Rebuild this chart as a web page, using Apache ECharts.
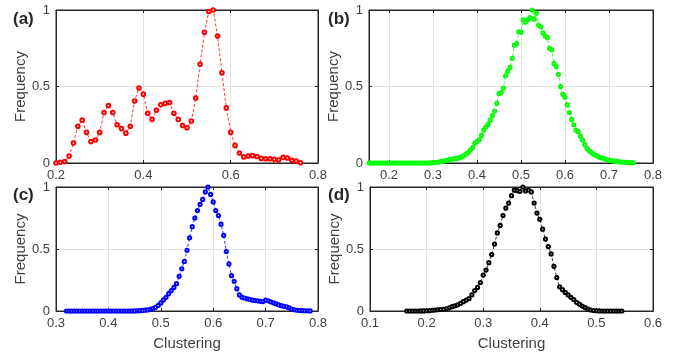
<!DOCTYPE html>
<html><head><meta charset="utf-8">
<script src="https://cdn.jsdelivr.net/npm/echarts@6/dist/echarts.min.js"></script>
<style>html,body{margin:0;padding:0;background:#fff}#c{width:674px;height:355px}</style>
</head><body><div id="c"></div>
<script>
// ---- data (histogram bin start, bin width, normalised frequency) ----
const aStart = 0.20, aStep = 0.01;
const aFreq = [0.00,0.005,0.01,0.045,0.13,0.24,0.28,0.20,0.14,0.15,
  0.20,0.33,0.375,0.33,0.25,0.225,0.195,0.24,0.405,0.49,
  0.45,0.325,0.285,0.345,0.38,0.39,0.395,0.325,0.285,0.245,
  0.23,0.275,0.425,0.645,0.855,0.99,1.0,0.83,0.59,0.36,
  0.2,0.115,0.065,0.04,0.045,0.048,0.042,0.03,0.028,0.028,
  0.024,0.02,0.037,0.033,0.018,0.013,0.002];

const bStart = 0.155, bStep = 0.005;
const bFreq = [0,0,0,0,0,0,0,0,0,0, 0,0,0,0,0,0,0,0,0,0, 0,0,0,0,0,0,0,0,
  0.001,0.002,0.003,0.005,0.008,0.010,0.013,0.016,0.020,0.024,
  0.026,0.028,0.030,0.035,0.040,0.048,0.060,0.068,0.085,0.100,
  0.130,0.140,0.152,0.180,0.215,0.235,0.252,0.280,0.310,0.340,
  0.390,0.455,0.460,0.490,0.570,0.600,0.625,0.684,0.770,0.780,
  0.858,0.854,0.935,0.920,0.935,0.950,1.000,0.940,0.980,0.900,0.890,
  0.850,0.830,0.820,0.750,0.740,0.650,0.630,0.580,0.500,0.450,
  0.430,0.380,0.330,0.285,0.250,0.215,0.205,0.175,0.150,0.120,
  0.095,0.080,0.070,0.058,0.050,0.042,0.036,0.031,0.027,0.023,
  0.019,0.016,0.013,0.011,0.009,0.008,0.006,0.005,0.004,0.003,0.002,0.001];

const cStart = 0.32, cStep = 0.005;
const cFreq = [0,0,0,0,0,0,0,0,0,0, 0,0,0,0,0,0,0,0,0,0, 0,0,0,0,0,0,0.001,0.002,0.003,0.005,
  0.007,0.009,0.014,0.020,0.030,0.045,0.065,0.089,0.11,0.14,
  0.165,0.19,0.22,0.28,0.34,0.40,0.49,0.59,0.68,0.75,
  0.81,0.86,0.90,0.96,1.00,0.94,0.88,0.81,0.77,0.70,
  0.61,0.48,0.38,0.285,0.24,0.18,0.13,0.11,0.105,0.098,
  0.094,0.087,0.084,0.082,0.078,0.076,0.088,0.082,0.074,0.066,
  0.058,0.05,0.043,0.038,0.034,0.026,0.015,0.01,0.006,0.004,
  0.003,0.002,0.002,0.001];

const dStart = 0.165, dStep = 0.005;
const dFreq = [0,0,0,0,0,0.001,0.001,0.002,0.003,0.006,
  0.008,0.01,0.012,0.014,0.018,0.026,0.035,0.042,0.05,0.062,
  0.075,0.088,0.1,0.13,0.165,0.19,0.23,0.29,0.33,0.39,
  0.455,0.54,0.63,0.69,0.77,0.83,0.87,0.93,0.975,0.97,
  0.965,1.0,0.968,0.976,0.96,0.87,0.79,0.74,0.66,0.58,
  0.52,0.46,0.36,0.27,0.195,0.172,0.15,0.13,0.11,0.092,
  0.07,0.055,0.04,0.028,0.016,0.008,0.004,0.002,0.001,0,
  0,0,0,0,0,0,0];

const aTicks = [0.2,0.4,0.6,0.8];
const bTicks = [0.2,0.3,0.4,0.5,0.6,0.7,0.8];
const cTicks = [0.3,0.4,0.5,0.6,0.7,0.8];
const dTicks = [0.1,0.2,0.3,0.4,0.5,0.6];
const yTicks = [0,0.5,1];
const panelLabels = ['(a)','(b)','(c)','(d)'];
const colors = ['#ff0000','#00ff00','#0000ff','#000000'];

// ---- build ----
function pts(start, step, arr){ return arr.map((v,i)=>[+(start+i*step).toFixed(4), v]); }
const seriesData = [pts(aStart,aStep,aFreq), pts(bStart,bStep,bFreq), pts(cStart,cStep,cFreq), pts(dStart,dStep,dFreq)];
const xRanges = [[0.2,0.8],[0.1545,0.8],[0.3,0.8],[0.1,0.6]];
const xTickSets = [aTicks,bTicks,cTicks,dTicks];
const grids = [
  {left:56, top:10, width:262, height:153},
  {left:369, top:10, width:284, height:153},
  {left:56, top:187, width:262, height:124},
  {left:370, top:187, width:283, height:124}
];
const AX = '#262626', FONT = 'Liberation Sans, Arial, sans-serif';
const fmt = v => String(+(+v).toFixed(2));

const xAxis = [], yAxis = [], series = [];
for (let i=0;i<4;i++){
  const bottomRow = i>=2;
  xAxis.push({
    type:'value', gridIndex:i, min:xRanges[i][0], max:xRanges[i][1],
    name: bottomRow ? 'Clustering' : '', nameLocation:'middle', nameGap:25,
    nameTextStyle:{fontSize:15, color:'#404040', fontFamily:FONT},
    axisLine:{show:true, onZero:false, lineStyle:{color:AX, width:1}},
    axisTick:{show:true, inside:true, length:3, lineStyle:{color:AX}, customValues:xTickSets[i]},
    axisLabel:{show:true, fontSize:13, color:'#404040', fontFamily:FONT, margin:6, formatter:fmt,
      customValues:xTickSets[i], showMinLabel:true, showMaxLabel:true},
    splitLine:{show:true, lineStyle:{color:'#e3e3e3', width:1}}
  });
  yAxis.push({
    type:'value', gridIndex:i, min:0, max:1, interval:0.5,
    name:'Frequency', nameLocation:'middle', nameGap:25, nameRotate:90,
    nameTextStyle:{fontSize:15, color:'#404040', fontFamily:FONT},
    axisLine:{show:true, onZero:false, lineStyle:{color:AX, width:1}},
    axisTick:{show:true, inside:true, length:3, lineStyle:{color:AX}},
    axisLabel:{show:true, fontSize:13, color:'#404040', fontFamily:FONT, margin:6, formatter:fmt,
      showMinLabel:true, showMaxLabel:true},
    splitLine:{show:true, lineStyle:{color:'#e3e3e3', width:1}}
  });
  series.push({
    type:'line', xAxisIndex:i, yAxisIndex:i, data:seriesData[i],
    symbol:'emptyCircle', symbolSize: i===0?3.6:3.2, showSymbol:true,
    lineStyle:{color:colors[i], width:0.8, type:[3,2]},
    itemStyle:{color:colors[i], borderColor:colors[i], borderWidth:0.8},
    animation:false, silent:true, z:3
  });
}
// top / right mirror axes (inside ticks only)
for (let i=0;i<4;i++){
  xAxis.push({
    type:'value', gridIndex:i, position:'top', min:xRanges[i][0], max:xRanges[i][1],
    axisLine:{show:true, onZero:false, lineStyle:{color:AX, width:1}},
    axisTick:{show:true, inside:true, length:3, lineStyle:{color:AX}, customValues:xTickSets[i]},
    axisLabel:{show:false}, splitLine:{show:false}
  });
  yAxis.push({
    type:'value', gridIndex:i, position:'right', min:0, max:1, interval:0.5,
    axisLine:{show:true, onZero:false, lineStyle:{color:AX, width:1}},
    axisTick:{show:true, inside:true, length:3, lineStyle:{color:AX}},
    axisLabel:{show:false}, splitLine:{show:false}
  });
}
const labelPos = [[13,11],[328,11],[13,187],[328,187]];
const graphic = panelLabels.map((t,i)=>({
  type:'text', left:labelPos[i][0], top:labelPos[i][1],
  style:{text:t, font:'bold 17px '+FONT, fill:'#262626'}
}));

const chart = echarts.init(document.getElementById('c'), null, {renderer:'canvas'});
chart.setOption({
  animation:false, backgroundColor:'#fff',
  grid: grids.map(g=>Object.assign({containLabel:false, show:true, borderColor:AX, borderWidth:1, backgroundColor:'transparent'}, g)),
  xAxis, yAxis, series, graphic
});
</script></body></html>
